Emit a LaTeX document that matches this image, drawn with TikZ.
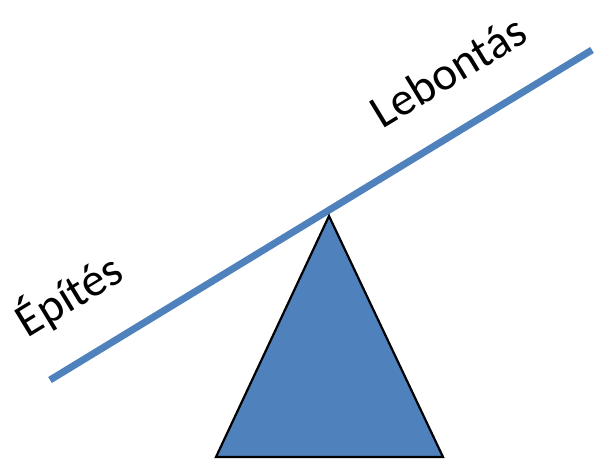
\documentclass[tikz,border=0pt]{standalone}
\usepackage{fontspec}
\setmainfont{Carlito}
\definecolor{beam}{RGB}{79,129,189}
\begin{document}
\begin{tikzpicture}[x=1pt,y=1pt]
\useasboundingbox (0,0) rectangle (597,462);
\coordinate (left) at (50,82);
\coordinate (right) at (592,412);
\coordinate (apex) at (329,246);
\coordinate (baseL) at (216,5);
\coordinate (baseR) at (443,5);
\draw[beam,line width=7pt] (left) -- (right);
\filldraw[fill=beam,draw=black,line width=2.2pt,line join=miter] (apex) -- (baseL) -- (baseR) -- cycle;
\node[rotate=31.3,font=\fontsize{47}{55}\selectfont] (epites) at (69,167) {Építés};
\node[rotate=31.3,font=\fontsize{47}{55}\selectfont] (lebontas) at (448,391) {Lebontás};
\end{tikzpicture}
\end{document}
